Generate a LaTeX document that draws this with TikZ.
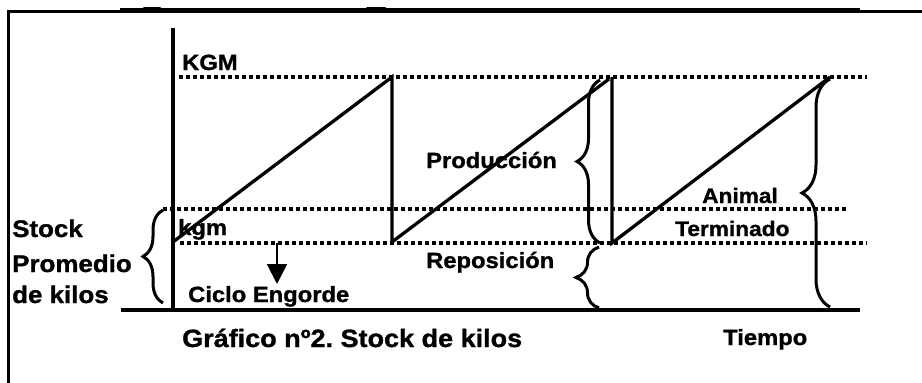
\documentclass[tikz,border=0pt]{standalone}
\usepackage{fontspec}
\newfontfamily\lab[FakeStretch=1.08,BoldFeatures={FakeBold=1.2}]{Liberation Sans}
\usetikzlibrary{arrows.meta,decorations.pathreplacing}
\begin{document}
\frenchspacing
\begin{tikzpicture}[x=1pt,y=-1pt,
  frame/.style={line width=3pt},
  axis/.style={line width=3.8pt},
  ramp/.style={line width=3.3pt},
  dots/.style={line width=3.5pt,dash pattern=on 4pt off 3pt},
  br/.style={line width=3pt,decorate,decoration={brace,amplitude=#1}},
  lbl/.style={inner sep=0pt,anchor=base west,font=\lab\bfseries\fontsize{22pt}{26pt}\selectfont},
  biglbl/.style={lbl,font=\lab\bfseries\fontsize{24pt}{28pt}\selectfont},
  captlbl/.style={lbl,font=\lab\bfseries\fontsize{25pt}{29pt}\selectfont},
  smalllbl/.style={lbl,font=\lab\bfseries\fontsize{21pt}{25pt}\selectfont}]
\useasboundingbox (0,0) rectangle (922,383);
% frame
\coordinate (fbl) at (8,383);
\coordinate (ftl) at (8,11.5);
\coordinate (ftr) at (922,11.5);
\draw[frame] (fbl) -- (ftl) -- (ftr);
\coordinate (fa) at (120,10);
\coordinate (fb) at (860,10);
\draw[line width=4pt] (fa) -- (fb);
\coordinate (k1a) at (144,8); \coordinate (k1b) at (160,8);
\coordinate (k2a) at (367,8); \coordinate (k2b) at (385,8);
\draw[line width=3pt,line cap=round] (k1a) -- (k1b);
\draw[line width=3pt,line cap=round] (k2a) -- (k2b);
% axes
\coordinate (ytop) at (173,28);
\coordinate (ybot) at (173,311);
\coordinate (xl) at (121,310);
\coordinate (xr) at (860,310);
\draw[axis] (ytop) -- (ybot);
\draw[axis] (xl) -- (xr);
% dotted levels
\coordinate (d1a) at (179,77);  \coordinate (d1b) at (867,77);
\coordinate (d2a) at (163,209); \coordinate (d2b) at (848,209);
\coordinate (d3a) at (180,243); \coordinate (d3b) at (867,243);
\draw[dots] (d1a) -- (d1b);
\draw[dots] (d2a) -- (d2b);
\draw[dots] (d3a) -- (d3b);
% saw-tooth
\coordinate (r1s) at (173,242);
\coordinate (r1t) at (392,77);
\coordinate (r1b) at (392,242);
\coordinate (r2t) at (609,79);
\coordinate (v2t) at (612,77);
\coordinate (v2b) at (612,243);
\coordinate (r3t) at (830,77);
\draw[ramp] (r1s) -- (r1t) -- (r1b) -- (r2t);
\draw[ramp] (v2t) -- (v2b) -- (r3t);
% arrow
\coordinate (aa) at (277,243);
\coordinate (ab) at (277,284);
\draw[line width=2pt,-{Triangle[length=20pt,width=20pt]}] (aa) -- (ab);
% braces
\coordinate (bsb) at (163,303); \coordinate (bst) at (163,210);
\draw[br=20pt] (bsb) -- (bst);
\coordinate (bpb) at (600,243); \coordinate (bpt) at (600,80);
\draw[br=23pt] (bpb) -- (bpt);
\coordinate (brb) at (599,308); \coordinate (brt) at (599,247);
\draw[br=23pt] (brb) -- (brt);
\coordinate (bab) at (830,307); \coordinate (bat) at (830,79);
\draw[br=28pt] (bab) -- (bat);
% labels
\node[lbl] (kgmU) at (182,70) {KGM};
\node[lbl] (kgmL) at (178,235) {kgm};
\node[lbl] (ciclo) at (188,302) {Ciclo Engorde};
\node[lbl] (prod) at (426,168) {Producción};
\node[lbl] (repo) at (426,268) {Reposición};
\node[smalllbl] (anim) at (702,203) {Animal};
\node[smalllbl] (term) at (675,236) {Terminado};
\node[biglbl] (st1) at (12,237) {Stock};
\node[biglbl] (st2) at (12,272) {Promedio};
\node[biglbl] (st3) at (12,303) {de kilos};
\node[captlbl] (capt) at (182,347) {Gráfico nº2. Stock de kilos};
\node[lbl] (tiempo) at (723,345) {Tiempo};
\end{tikzpicture}
\end{document}
